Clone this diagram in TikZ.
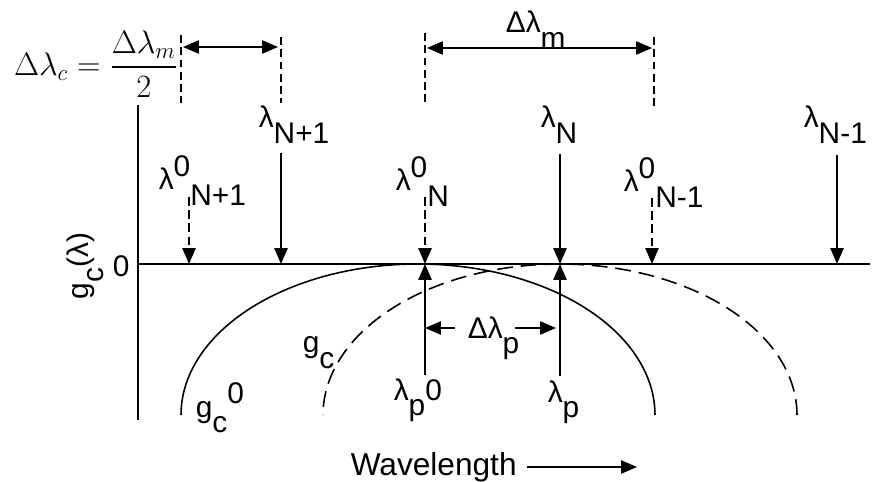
\RequirePackage{fix-cm}
\documentclass[tikz,border=0pt]{standalone}
\usepackage{amsmath}
\usepackage[no-math]{fontspec}
\setmainfont{Liberation Sans}
\usetikzlibrary{arrows.meta}

\newcommand{\subtx}[1]{\raisebox{-1ex}{#1}}
\newcommand{\suptx}[1]{\raisebox{0.85ex}{#1}}

\begin{document}
\begin{tikzpicture}[
    x=0.02cm, y=-0.02cm,
    line width=0.9pt,
    lbl/.style={anchor=base west, inner sep=0pt, font=\fontsize{17}{20}\selectfont},
    arrow/.style={-{Triangle[length=9pt, width=7.5pt]}},
    dbl/.style={{Triangle[length=9pt, width=7.5pt]}-{Triangle[length=9pt, width=7.5pt]}},
    guide/.style={dash pattern=on 4.5pt off 2.5pt},
    dasharrow/.style={arrow, dash pattern=on 5pt off 2.5pt},
    dashcurve/.style={dash pattern=on 9pt off 4.5pt}
]
    \useasboundingbox (0,0) rectangle (888,482);

    % --- Axes ---
    \coordinate (ytop) at (138,105);
    \coordinate (ybot) at (138,420);
    \coordinate (origin) at (138,264);
    \coordinate (xend) at (870,264);
    \draw (ytop) -- (ybot);
    \draw (origin) -- (xend);
    \node[lbl] (zero) at (112,277) {0};
    \node[lbl, anchor=base, rotate=90] (ylab) at (88,266) {g\subtx{c}(λ)};

    % --- Gain curves ---
    \draw plot[smooth, domain=0:180, samples=80] ({418+237*cos(\x)}, {415-151*sin(\x)});
    \draw[dashcurve] plot[smooth, domain=0:180, samples=80] ({560+237*cos(\x)}, {415-151*sin(\x)});
    \node[lbl] (gc0) at (195,417) {g\subtx{c}\suptx{0}};
    \node[lbl] (gc) at (302,353) {g\subtx{c}};

    % --- Channel wavelengths ---
    \coordinate (c0Np1) at (189,264);
    \coordinate (cNp1) at (281,264);
    \coordinate (c0N) at (425,264);
    \coordinate (cN) at (560,264);
    \coordinate (c0Nm1) at (652,264);
    \coordinate (cNm1) at (837,264);

    \coordinate (s0Np1) at (189,197);
    \coordinate (sNp1) at (281,153);
    \coordinate (s0N) at (425,197);
    \coordinate (sN) at (560,154);
    \coordinate (s0Nm1) at (652,198);
    \coordinate (sNm1) at (837,155);

    \node[lbl] (l0Np1) at (158,190) {λ\suptx{0}\subtx{N+1}};
    \node[lbl] (lNp1) at (258,128) {λ\subtx{N+1}};
    \node[lbl] (l0N) at (395,191) {λ\suptx{0}\subtx{N}};
    \node[lbl] (lN) at (540,128) {λ\subtx{N}};
    \node[lbl] (l0Nm1) at (623,192) {λ\suptx{0}\subtx{N-1}};
    \node[lbl] (lNm1) at (803,128) {λ\subtx{N-1}};

    \draw[dasharrow] (s0Np1) -- (c0Np1);
    \draw[arrow] (sNp1) -- (cNp1);
    \draw[dasharrow] (s0N) -- (c0N);
    \draw[arrow] (sN) -- (cN);
    \draw[dasharrow] (s0Nm1) -- (c0Nm1);
    \draw[arrow] (sNm1) -- (cNm1);

    % --- Gain peaks ---
    \coordinate (sp0) at (425,375);
    \coordinate (sp) at (560,376);
    \draw[arrow] (sp0) -- (c0N);
    \draw[arrow] (sp) -- (cN);
    \node[lbl] (lp0) at (393,400) {λ\subtx{p}0};
    \node[lbl] (lp) at (547,402) {λ\subtx{p}};

    \node[lbl] (dlp) at (467,338) {Δλ\subtx{p}};
    \coordinate (dpl) at (425,328);
    \coordinate (dpr) at (556,328);
    \draw[arrow] (dlp.west |- dpl) ++(-12,0) -- (dpl);
    \draw[arrow] ([xshift=-3pt]dlp.east |- dpr) -- (dpr);

    % --- Spacing guides ---
    \coordinate (g1t) at (181,35);
    \coordinate (g1b) at (181,103);
    \coordinate (g2t) at (281,37);
    \coordinate (g2b) at (281,103);
    \coordinate (g3t) at (425,33);
    \coordinate (g3b) at (425,105);
    \coordinate (g4t) at (654,37);
    \coordinate (g4b) at (654,107);
    \draw[guide] (g1t) -- (g1b);
    \draw[guide] (g2t) -- (g2b);
    \draw[guide] (g3t) -- (g3b);
    \draw[guide] (g4t) -- (g4b);

    \coordinate (dc1) at (183,47);
    \coordinate (dc2) at (278,47);
    \coordinate (dm1) at (427,48);
    \coordinate (dm2) at (652,48);
    \draw[dbl] (dc1) -- (dc2);
    \draw[dbl] (dm1) -- (dm2);
    \node[lbl] (dlm) at (505,33) {Δλ\subtx{m}};
    \node[font=\fontsize{18.5}{22}\selectfont, inner sep=0pt] (dlc) at (96,64)
        {$\displaystyle \Delta\lambda_c = \frac{\Delta\lambda_m}{2}$};

    % --- Wavelength axis label ---
    \node[lbl, font=\fontsize{18}{21}\selectfont] (wl) at (350,475) {Wavelength};
    \coordinate (wlst) at (527,467);
    \coordinate (wlend) at (637,467);
    \draw[arrow] (wlst) -- (wlend);

\end{tikzpicture}
\end{document}
